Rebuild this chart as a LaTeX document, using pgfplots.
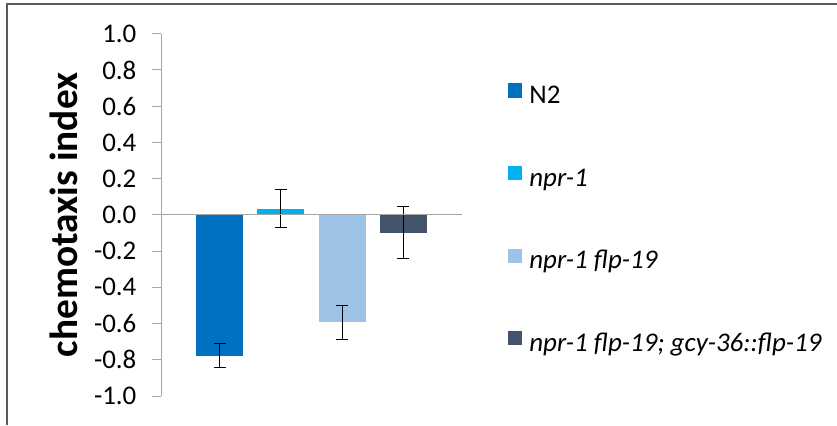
\documentclass[border=0pt]{standalone}
\usepackage{fontspec}
\setmainfont{Carlito}
\usepackage{pgfplots}
\pgfplotsset{compat=1.18}
\definecolor{cN}{HTML}{0070C0}
\definecolor{cA}{HTML}{00B0F0}
\definecolor{cB}{HTML}{9DC3E6}
\definecolor{cC}{HTML}{44546A}
\definecolor{axgray}{HTML}{A6A6A6}
\definecolor{framegray}{HTML}{595959}
\pgfplotsset{
  mybar/.style={ybar, bar width=0.767, bar shift=0pt, draw=none, fill=#1,
    legend image code/.code={\fill[fill=#1,draw=none] (0pt,0pt) rectangle (10.8pt,10.8pt);}},
}
\begin{document}
\begin{tikzpicture}
\useasboundingbox (0pt,0pt) rectangle (627.75pt,318.75pt);
\draw[framegray, line width=1pt] (5.25pt,0pt) -- (5.25pt,315.75pt) -- (627.75pt,315.75pt);
\begin{axis}[
  at={(120.75pt,21.75pt)}, anchor=south west,
  scale only axis, width=225.75pt, height=271.7pt,
  xmin=0.046, xmax=4.954, ymin=-1, ymax=1,
  axis y line=left, axis x line=none,
  axis line style={axgray, line width=0.75pt, -},
  xtick=\empty,
  ytick={-1,-0.8,-0.6,-0.4,-0.2,0,0.2,0.4,0.6,0.8,1},
  yticklabels={-1.0,-0.8,-0.6,-0.4,-0.2,0.0,0.2,0.4,0.6,0.8,1.0},
  tick align=outside, major tick length=6.75pt,
  tick style={axgray, line width=0.75pt},
  y tick label style={font=\fontsize{20.2}{21}\selectfont, inner sep=0pt, xshift=-11.5pt},
  extra y ticks={0}, extra y tick labels={},
  extra y tick style={grid=major, major grid style={axgray, line width=0.75pt}, major tick length=0pt},
  ylabel={chemotaxis index},
  ylabel style={font=\fontsize{29.5}{31}\selectfont\bfseries, at={(axis description cs:-0.279,0.5)}, anchor=base, inner sep=0pt},
  error bars/y dir=both, error bars/y explicit,
  error bars/error mark=|,
  error bars/error bar style={black, line width=0.75pt},
  error bars/error mark options={black, mark size=4.5pt, line width=0.75pt},
  legend cell align=left,
  legend style={at={(axis description cs:1.1528,0.8628)}, anchor=north west, draw=none, fill=none,
    inner sep=0pt, outer sep=0pt, row sep=41.8pt, column sep=5.25pt,
    font=\fontsize{20.2}{21}\selectfont,
    nodes={inner sep=0pt, text height=13.7pt, text depth=4.9pt}},
  axis on top,
]
\addplot[mybar=cN] coordinates {(1,-0.777) +- (0,0.066)};
\addlegendentry{N2}
\addplot[mybar=cA] coordinates {(2,0.033) +- (0,0.105)};
\addlegendentry{\itshape npr-1}
\addplot[mybar=cB] coordinates {(3,-0.593) +- (0,0.094)};
\addlegendentry{\itshape npr-1 flp-19}
\addplot[mybar=cC] coordinates {(4,-0.098) +- (0,0.145)};
\addlegendentry{\itshape npr-1 flp-19; gcy-36::flp-19}
\end{axis}
\end{tikzpicture}
\end{document}
